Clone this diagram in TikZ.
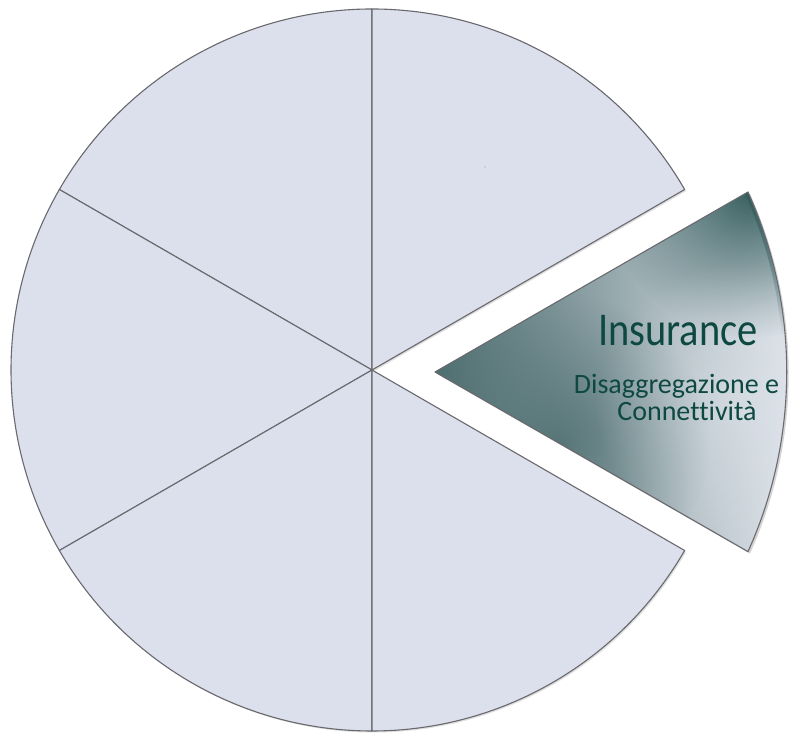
\documentclass[tikz,border=0pt]{standalone}
\usepackage{fontspec}
\setmainfont{Carlito}[Ligatures=NoCommon]
\usetikzlibrary{shadows,fadings,calc}
\definecolor{slicefill}{RGB}{220,223,236}
\definecolor{sliceedge}{RGB}{105,105,110}
\definecolor{tealdark}{RGB}{52,92,92}
\definecolor{tealmid}{RGB}{78,110,112}
\definecolor{teallight}{RGB}{222,227,234}
\definecolor{textteal}{RGB}{14,72,66}
\tikzfading[name=softspot, inner color=transparent!0, outer color=transparent!100]
\tikzset{
  slice/.style={fill=slicefill, draw=sliceedge, line width=1.1pt, line join=round,
    drop shadow={opacity=0.25, shadow xshift=1.5pt, shadow yshift=-1.5pt}},
  titletext/.style={text=textteal, font=\fontsize{47}{50}\selectfont, inner sep=0pt},
  subtext/.style={text=textteal, font=\fontsize{28}{30}\selectfont, inner sep=0pt}
}
\begin{document}
\begin{tikzpicture}[x=1pt,y=1pt]
\useasboundingbox (0,0) rectangle (793,733);
\coordinate (C) at (372,363);
\coordinate (T) at (435,361);
\coordinate (TA) at (748,541);
\coordinate (TB) at (748,181);
\def\R{361}
\def\slicepath{(T) -- (TA) arc[start angle=24.3, end angle=-24.3, radius=437] -- cycle}
% five pie slices
\foreach \a/\b in {90/150,150/210,210/270,270/330,30/90}{
  \path[slice] (C) -- ++(\a:\R) arc[start angle=\a, end angle=\b, radius=\R] -- cycle;
}
% exploded slice
\path[fill=white, drop shadow={opacity=0.35, shadow xshift=2pt, shadow yshift=-2pt}] \slicepath;
\begin{scope}
  \clip \slicepath;
  \shade[left color=tealmid, right color=teallight] (435,150) rectangle (790,560);
  \fill[tealmid, opacity=0.8, path fading=softspot] (560,290) circle (150);
  \fill[tealdark, path fading=softspot] (752,545) circle (150);
  \fill[teallight, opacity=0.5, path fading=softspot] (735,330) circle (140);
  \draw[tealdark, line width=7pt, path fading=south, opacity=0.8]
    (TA) arc[start angle=24.3, end angle=5, radius=437];
\end{scope}
\draw[sliceedge, line width=1.1pt, line join=round] \slicepath;
% texts
\node[titletext, anchor=base] (title) at (678,387) {\scalebox{0.86}[1]{Insurance}};
\node[subtext, anchor=base] (sub1) at (676.5,339) {Disaggregazione e};
\node[subtext, anchor=base] (sub2) at (687,312) {Connettività};
\node[font=\fontsize{4}{4}\selectfont, text=gray, inner sep=0pt] (mark) at (485,565) {»};
\end{tikzpicture}
\end{document}
